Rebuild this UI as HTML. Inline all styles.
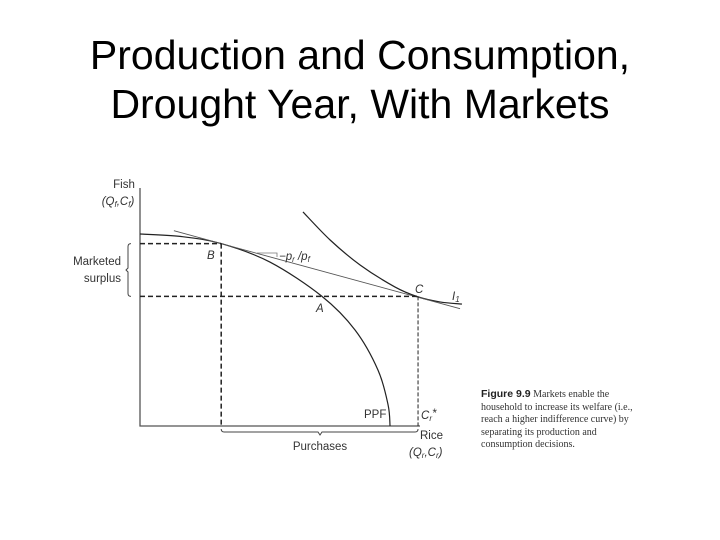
<!DOCTYPE html>
<html><head><meta charset="utf-8"><style>
body{margin:0;width:720px;height:540px;background:#fff;overflow:hidden;position:relative;font-family:"Liberation Sans",sans-serif}
#title{position:absolute;left:0;width:720px;top:31px;text-align:center;font-size:41px;line-height:49px;color:#000}
#cap{position:absolute;left:481px;top:388px;font-family:"Liberation Serif",serif;font-size:10px;line-height:12.5px;color:#333;white-space:nowrap}
</style></head><body>
<div id="title">Production and Consumption,<br>Drought Year, With Markets</div>
<svg width="720" height="540" style="position:absolute;left:0;top:0">
<g id="g" font-family="Liberation Sans,sans-serif" font-size="11.5" fill="#333"></g>
</svg>
<div id="cap"><b style="font-family:'Liberation Sans',sans-serif;color:#222;font-size:10.5px">Figure 9.9</b> Markets enable the<br>household to increase its welfare (i.e.,<br>reach a higher indifference curve) by<br>separating its production and<br>consumption decisions.</div>
<script>
const ppfX=[0,0.143,0.29,0.464,0.65,0.768,0.85,0.886,0.893];
const ppfY=[0.8,0.79,0.76,0.683,0.54,0.4,0.233,0.088,0];
const icX=[0.582,0.679,0.786,0.911,0.993,1.071,1.15];
const icY=[0.892,0.775,0.671,0.579,0.538,0.517,0.508];
const pointB=[0.29,0.76];const pointA=[0.65,0.54];const pointC=[0.993,0.54];
const slope=-0.318;
const X=v=>140+v*280, Y=v=>426-v*240;
const g=document.getElementById('g');const NS='http://www.w3.org/2000/svg';
function el(t,a,name){const e=document.createElementNS(NS,t);for(const k in a)e.setAttribute(k,a[k]);


g.appendChild(e);return e;}
function smooth(xs,ys){let p=xs.map((x,i)=>[X(x),Y(ys[i])]);let d='M'+p[0];for(let i=0;i<p.length-1;i++){const p0=p[i-1]||p[i],p1=p[i],p2=p[i+1],p3=p[i+2]||p2;
d+=' C'+(p1[0]+(p2[0]-p0[0])/6)+','+(p1[1]+(p2[1]-p0[1])/6)+' '+(p2[0]-(p3[0]-p1[0])/6)+','+(p2[1]-(p3[1]-p1[1])/6)+' '+p2;}return d;}
el('path',{d:'M140,188 V426 H420',stroke:'#555','stroke-width':1.3,fill:'none'},'axes');
el('path',{d:smooth(ppfX,ppfY),stroke:'#222','stroke-width':1.2,fill:'none'},'ppf-curve');
el('path',{d:smooth(icX,icY),stroke:'#222','stroke-width':1.2,fill:'none'},'indifference-curve');
const t0=0.121,t1=1.143;
el('line',{x1:X(t0),y1:Y(pointB[1]+slope*(t0-pointB[0])),x2:X(t1),y2:Y(pointB[1]+slope*(t1-pointB[0])),stroke:'#555','stroke-width':0.9},'price-line');
const ds={stroke:'#222','stroke-width':1.5,'stroke-dasharray':'5,3'};
el('line',Object.assign({x1:140,y1:Y(pointB[1]),x2:X(pointB[0]),y2:Y(pointB[1])},ds),'dash-b-horizontal');
el('line',Object.assign({x1:X(pointB[0]),y1:Y(pointB[1]),x2:X(pointB[0]),y2:426},ds),'dash-b-vertical');
el('line',Object.assign({x1:140,y1:Y(pointA[1]),x2:X(pointC[0]),y2:Y(pointA[1])},ds),'dash-a-horizontal');
el('line',{x1:X(pointC[0]),y1:Y(pointC[1]),x2:X(pointC[0]),y2:426,stroke:'#222','stroke-width':1,'stroke-dasharray':'4,2'},'dash-c-vertical');
el('path',{d:'M257,253 H277 V257',stroke:'#777','stroke-width':0.8,fill:'none'},'slope-triangle');
el('path',{d:`M131,${Y(pointB[1])} q-3,0 -3,3 V${(Y(pointB[1])+Y(pointA[1]))/2-2} l-2,2 l2,2 V${Y(pointA[1])-3} q0,3 3,3`,stroke:'#444','stroke-width':1,fill:'none'},'marketed-surplus-brace');
el('path',{d:`M${X(pointB[0])},429 q0,3 3,3 H318 l2,3 l2,-3 H${X(pointC[0])-3} q3,0 3,-3`,stroke:'#444','stroke-width':1,fill:'none'},'purchases-brace');
function tx(x,y,s,name,anchor,it){const e=el('text',{x:x,y:y,'text-anchor':anchor||'start','font-style':it?'italic':'normal'},name);e.innerHTML=s;}
tx(124,188,'Fish','y-axis-title','middle');
tx(118,205,'(Q<tspan font-size="8" dy="2">f</tspan><tspan dy="-2">,C</tspan><tspan font-size="8" dy="2">f</tspan><tspan dy="-2">)</tspan>','y-axis-subtitle','middle',true);
tx(121,265,'Marketed','marketed-label','end');tx(121,282,'surplus','surplus-label','end');
tx(207,259,'B','label-b','start',true);tx(316,312,'A','label-a','start',true);tx(415,293,'C','label-c','start',true);
tx(452,300,'I<tspan font-size="8" dy="2">1</tspan>','label-i1','start',true);
tx(279,260,'−p<tspan font-size="8" dy="2">r</tspan><tspan dy="-2"> /p</tspan><tspan font-size="8" dy="2">f</tspan>','price-ratio-label','start',true);
tx(364,418,'PPF','ppf-label');
tx(421,419,'C<tspan font-size="8" dy="2">r</tspan><tspan dy="-4">*</tspan>','cr-star-label','start',true);
tx(420,439,'Rice','x-axis-title');
tx(409,456,'(Q<tspan font-size="8" dy="2">r</tspan><tspan dy="-2">,C</tspan><tspan font-size="8" dy="2">r</tspan><tspan dy="-2">)</tspan>','x-axis-subtitle','start',true);
tx(320,450,'Purchases','purchases-label','middle');
</script>
</body></html>
